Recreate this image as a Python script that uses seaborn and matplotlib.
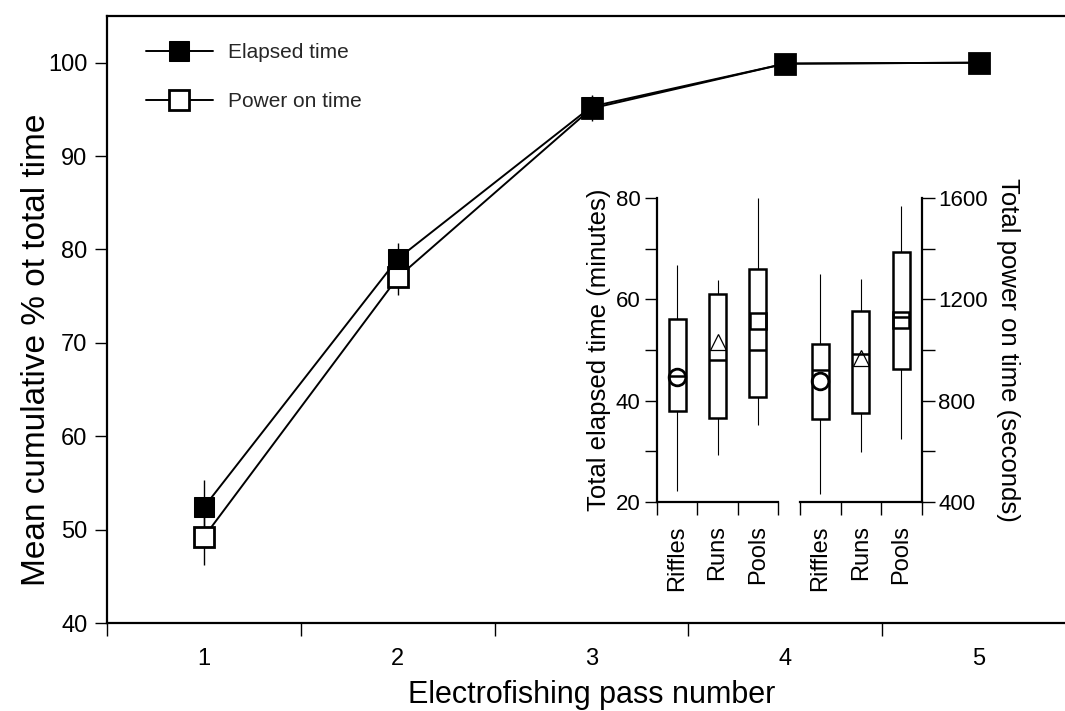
import numpy as np
import pandas as pd
import matplotlib
matplotlib.use("Agg")
import matplotlib.pyplot as plt
import seaborn as sns
from matplotlib.ticker import FixedLocator

# Main panel data (mean cumulative % of total time per pass)
passes = [1, 2, 3, 4, 5]
elapsed_pct = [52.4, 79.0, 95.3, 99.9, 100.0]
elapsed_err = [2.9, 1.7, 1.2, 0.4, 0.0]
power_pct = [49.2, 77.0, 95.1, 99.9, 100.0]
power_err = [3.0, 1.9, 1.3, 0.4, 0.0]

# Inset data (box stats per habitat)
habitats = ["Riffles", "Runs", "Pools"]
elapsed_lo = [22.2, 29.3, 35.2]
elapsed_q1 = [38.0, 36.6, 40.8]
elapsed_med = [44.9, 48.1, 50.0]
elapsed_q3 = [56.2, 61.1, 66.0]
elapsed_hi = [66.8, 63.9, 80.0]
elapsed_mean = [44.7, 51.5, 55.8]

power_lo = [430, 598, 647]
power_q1 = [727, 751, 925]
power_med = [921, 983, 1130]
power_q3 = [1022, 1154, 1389]
power_hi = [1300, 1282, 1571]
power_mean = [878, 967, 1120]

mean_markers = ["o", "^", "s"]
mean_sizes = [12, 12, 11]
mean_edges = [2.0, 0.9, 1.8]

sns.set_theme(style="ticks")
plt.rcParams['font.family'] = ['Liberation Sans', 'DejaVu Sans']


def five_number_frame(lo, q1, med, q3, hi):
    # 5 values per group -> linear percentiles give exactly these quartiles
    rows = []
    for i, h in enumerate(habitats):
        for v in (lo[i], q1[i], med[i], q3[i], hi[i]):
            rows.append((h, v))
    return pd.DataFrame(rows, columns=["habitat", "value"])


fig = plt.figure(figsize=(10.65, 7.11), dpi=100)
W, H = 1065, 711
ax = fig.add_axes([107 / W, 88 / H, 969 / W, 607 / H])

#Main plot
ax.errorbar(passes, power_pct, yerr=power_err, fmt='none', ecolor='black', elinewidth=1, capsize=0, zorder=2)
ax.errorbar(passes, elapsed_pct, yerr=elapsed_err, fmt='none', ecolor='black', elinewidth=1, capsize=0, zorder=2)
sns.lineplot(x=passes, y=power_pct, ax=ax, color='black', lw=1.4, marker='s', markersize=15,
             markerfacecolor='white', markeredgecolor='black', markeredgewidth=2,
             label='Power on time', zorder=3)
sns.lineplot(x=passes, y=elapsed_pct, ax=ax, color='black', lw=1.4, marker='s', markersize=15,
             markerfacecolor='black', markeredgecolor='black', label='Elapsed time', zorder=4)

ax.set_xlim(0.5, 5.5)
ax.set_ylim(40, 105)
ax.set_xticks(passes)
ax.set_xticks([p - 0.5 for p in passes] + [5.5], minor=True)
ax.set_yticks(range(40, 101, 10))
ax.tick_params(axis='x', which='major', length=0, pad=18, labelsize=17, colors='black')
ax.tick_params(axis='x', which='minor', length=9, width=1, direction='out', color='black')
ax.tick_params(axis='y', which='major', length=9, width=1, pad=5, labelsize=17, colors='black')
for side in ['left', 'bottom', 'top']:
    ax.spines[side].set_linewidth(1.6)
    ax.spines[side].set_color('black')
ax.spines['right'].set_visible(False)
ax.set_xlabel('Electrofishing pass number', fontsize=22, labelpad=7.5, color='black')
ax.set_ylabel('Mean cumulative % ot total time', fontsize=24, color='black')
ax.yaxis.set_label_coords(-0.057, 0.45)

handles, labels = ax.get_legend_handles_labels()
lookup = dict(zip(labels, handles))
order = ['Elapsed time', 'Power on time']
ax.legend([lookup[k] for k in order], order, loc='upper left', frameon=False,
          bbox_to_anchor=(146 / W, 1 - 43 / H), bbox_transform=fig.transFigure,
          borderpad=0, borderaxespad=0, handlelength=3.2, handletextpad=0.75,
          labelspacing=1.45, fontsize=15)

#Insets
ax_e = fig.add_axes([657 / W, 1 - 501.7 / H, 121 / W, 303.4 / H])
ax_p = fig.add_axes([800 / W, 1 - 501.7 / H, 121.7 / W, 303.4 / H])

insets = [
    (ax_e, five_number_frame(elapsed_lo, elapsed_q1, elapsed_med, elapsed_q3, elapsed_hi),
     elapsed_mean, (20, 80), [20, 40, 60, 80], [30, 50, 70], 'Total elapsed time (minutes)'),
    (ax_p, five_number_frame(power_lo, power_q1, power_med, power_q3, power_hi),
     power_mean, (400, 1600), [400, 800, 1200, 1600], [600, 1000, 1400], 'Total power on time (seconds)'),
]

for a, df, means, ylim, yt, yminor, ylab in insets:
    a.set_facecolor('none')
    sns.boxplot(data=df, x='habitat', y='value', order=habitats, ax=a, color='white',
                linecolor='black', width=0.42, whis=(0, 100), showcaps=False, linewidth=1.8,
                whiskerprops=dict(linewidth=0.8), medianprops=dict(linewidth=1.8))
    for i in range(len(habitats)):
        a.plot(i, means[i], marker=mean_markers[i], markersize=mean_sizes[i],
               markerfacecolor='none', markeredgecolor='black', markeredgewidth=mean_edges[i],
               linestyle='none', zorder=5)
    a.set_xlim(-0.5, 2.5)
    a.set_ylim(*ylim)
    a.set_yticks(yt)
    a.yaxis.set_minor_locator(FixedLocator(yminor))
    a.set_xticks(range(len(habitats)))
    a.set_xticklabels(habitats, rotation=90, va='top')
    a.set_xticks([-0.5, 0.5, 1.5, 2.5], minor=True)
    a.tick_params(axis='x', which='major', length=0, pad=17, labelsize=17, colors='black')
    a.tick_params(axis='x', which='minor', length=9, width=1, color='black')
    a.tick_params(axis='y', which='both', length=9, width=1, pad=3, labelsize=16, colors='black')
    a.set_xlabel('')
    for s in a.spines.values():
        s.set_linewidth(1.6)
        s.set_color('black')
    a.spines['top'].set_visible(False)

ax_e.spines['right'].set_visible(False)
ax_e.set_ylabel(insets[0][6], fontsize=18.5, labelpad=3, color='black')

ax_p.spines['left'].set_visible(False)
ax_p.yaxis.tick_right()
ax_p.yaxis.set_label_position('right')
ax_p.set_ylabel(insets[1][6], fontsize=18.5, rotation=270, va='bottom', labelpad=6, color='black')

fig.savefig('out.png', dpi=100)
